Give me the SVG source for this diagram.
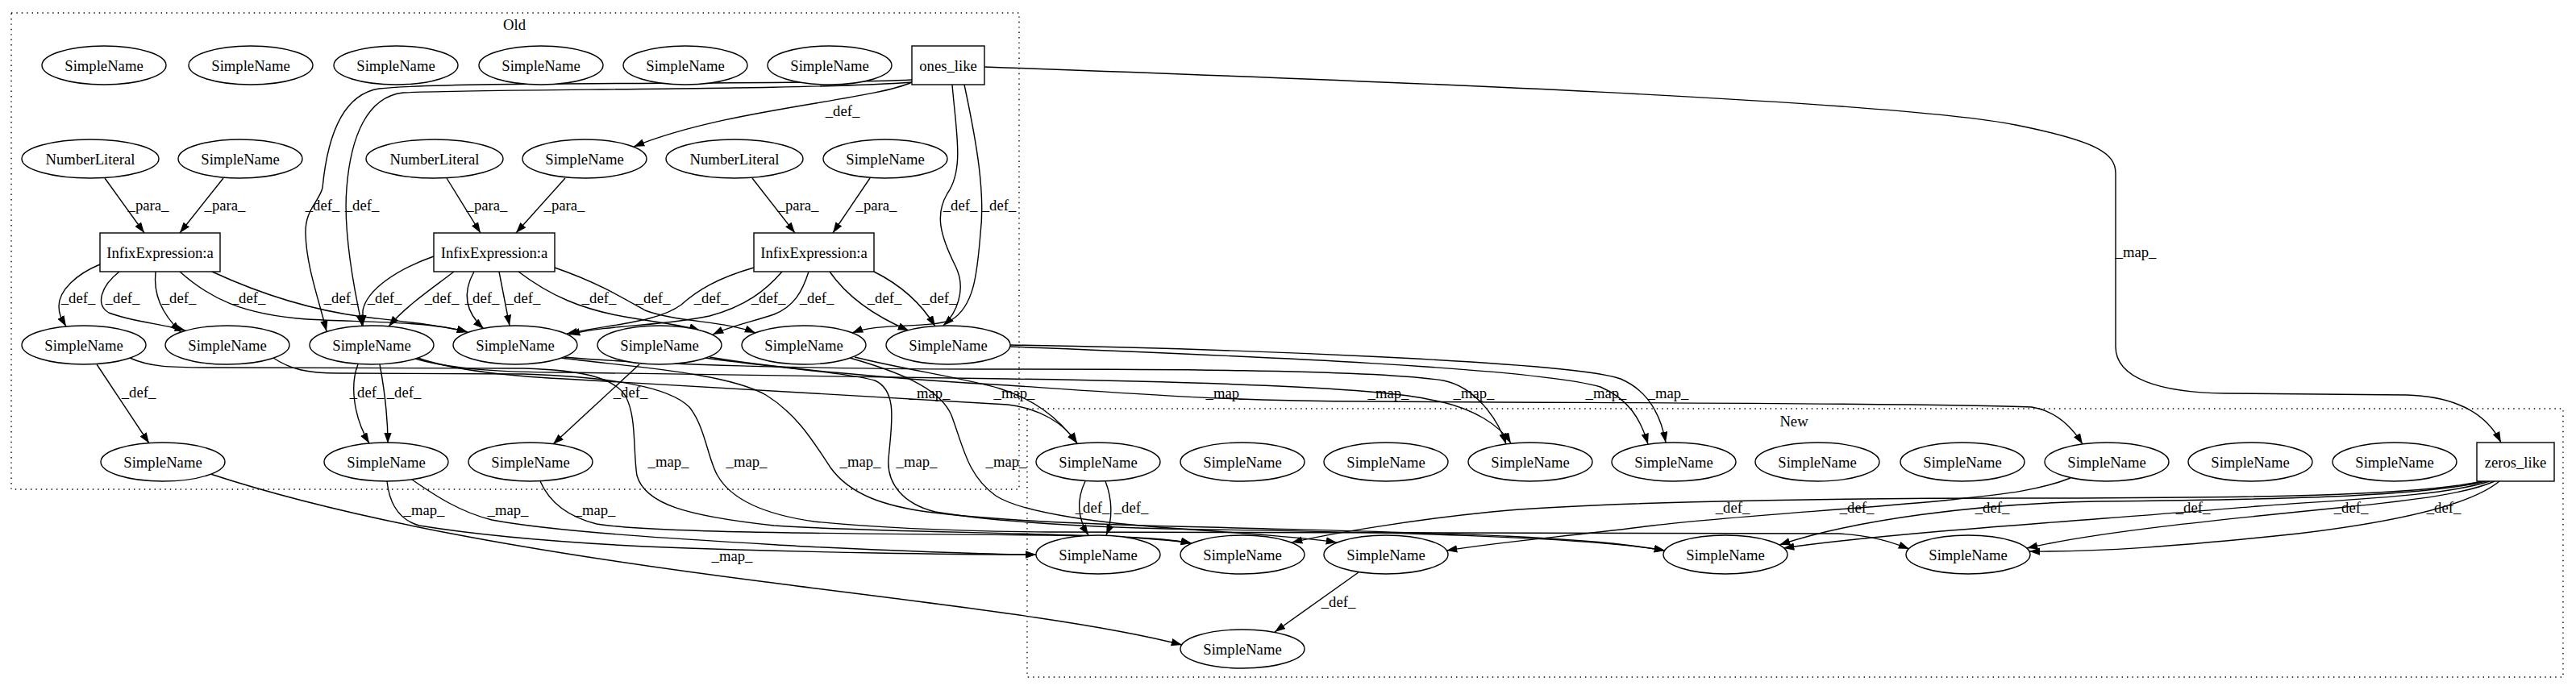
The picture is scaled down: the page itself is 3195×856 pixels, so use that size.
<svg xmlns="http://www.w3.org/2000/svg" width="3195" height="856" viewBox="0 0 3195 856">
<defs>
<marker id="a" markerUnits="userSpaceOnUse" markerWidth="14" markerHeight="10" refX="13.3" refY="4.7" orient="auto"><path d="M0,0 L13.3,4.7 L0,9.4 z" fill="#000"/></marker>
<style>
.nd ellipse,.nd rect{fill:#fff;stroke:#000;stroke-width:1.4}
text{font-family:"Liberation Serif","Times New Roman",serif;font-size:18.67px;text-anchor:middle;fill:#000}
.cl{fill:none;stroke:#000;stroke-width:1.4;stroke-dasharray:1.4,5}
#edges path{fill:none;stroke:#000;stroke-width:1.4;marker-end:url(#a)}
</style>
</defs>
<rect width="3195" height="856" fill="#fff"/>
<g id="cluster_old"><rect class="cl" x="14" y="16" width="1250" height="591"/><text x="638" y="37">Old</text></g>
<g id="cluster_new"><rect class="cl" x="1274" y="507" width="1905" height="333"/><text x="2225" y="529">New</text></g>
<g id="edges">
<path d="M130,221 L179,289"/><text x="184" y="261">_para_</text>
<path d="M277,221 L223,289"/><text x="279" y="261">_para_</text>
<path d="M554,221 L596,289"/><text x="604" y="261">_para_</text>
<path d="M701,221 L640,289"/><text x="700" y="261">_para_</text>
<path d="M933,221 L986,289"/><text x="990" y="261">_para_</text>
<path d="M1079,221 L1033,289"/><text x="1087" y="261">_para_</text>
<path d="M1131,102 C1080,125 900,135 786,182"/><text x="1045" y="144">_def_</text>
<path d="M1131,99 C1000,106 560,100 470,110 C420,118 405,180 400,233 C396,250 378,260 379,290 C380,330 395,370 405,411"/><text x="400" y="261">_def_</text>
<path d="M1131,102 C1000,112 600,110 500,115 C455,120 435,170 430,233 C426,280 435,340 449,404"/><text x="449" y="261">_def_</text>
<path d="M1181,105 C1186,165 1196,210 1175,240 C1160,265 1165,290 1185,330 C1200,360 1185,390 1170,404"/><text x="1191" y="261">_def_</text>
<path d="M1196,105 C1212,180 1222,240 1216,290 C1212,340 1208,380 1180,397 C1150,408 1090,400 1057,413"/><text x="1239" y="261">_def_</text>
<path d="M124,328 C95,340 73,360 73,380 C73,392 78,398 82,405"/><text x="97" y="376">_def_</text>
<path d="M148,337 C125,355 118,378 135,388 C160,398 200,402 230,410"/><text x="152" y="376">_def_</text>
<path d="M193,337 C190,365 200,388 224,412"/><text x="222" y="376">_def_</text>
<path d="M223,337 C260,370 300,390 380,396 C450,400 530,398 580,412"/><text x="308" y="376">_def_</text>
<path d="M263,337 C330,368 390,385 450,393 C510,400 550,404 580,412"/><text x="423" y="376">_def_</text>
<path d="M538,318 C490,335 455,360 450,385 L450,404"/><text x="477" y="376">_def_</text>
<path d="M563,337 C540,355 505,378 482,405"/><text x="548" y="376">_def_</text>
<path d="M588,337 C575,360 575,385 600,408"/><text x="598" y="376">_def_</text>
<path d="M619,337 L632,404"/><text x="649" y="376">_def_</text>
<path d="M643,337 C680,365 720,385 787,395 C830,402 850,404 868,410"/><text x="743" y="376">_def_</text>
<path d="M688,332 C740,350 770,368 800,385 C840,400 900,398 937,413"/><text x="810" y="376">_def_</text>
<path d="M935,332 C890,345 865,360 845,378 C815,400 760,402 703,414"/><text x="882" y="376">_def_</text>
<path d="M970,337 C950,360 925,380 880,392 C820,405 760,402 706,415"/><text x="953" y="376">_def_</text>
<path d="M1003,337 C995,362 985,380 960,390 C930,400 905,405 884,415"/><text x="1013" y="376">_def_</text>
<path d="M1029,337 C1045,360 1075,388 1127,410"/><text x="1097" y="376">_def_</text>
<path d="M1084,337 C1110,350 1140,372 1160,405"/><text x="1165" y="376">_def_</text>
<path d="M120,452 L185,550"/><text x="172" y="493">_def_</text>
<path d="M444,452 C433,480 440,520 458,550"/><text x="455" y="493">_def_</text>
<path d="M471,452 C478,490 481,520 481,550"/><text x="501" y="493">_def_</text>
<path d="M793,452 L686,551"/><text x="782" y="493">_def_</text>
<path d="M161,444 C185,455 210,456 260,456 L650,457 C720,459 760,468 775,490 C790,515 785,560 790,590 C800,625 850,640 960,652 C1100,662 1400,660 1478,674"/><text x="829" y="579">_map_</text>
<path d="M339,444 C360,458 380,463 420,463 L650,464 C760,468 830,480 855,505 C875,530 878,570 890,590 C910,625 960,640 1010,647 C1100,656 1200,659 1300,660 L2280,662 C2320,664 2345,672 2368,681"/><text x="926" y="579">_map_</text>
<path d="M696,444 C780,455 900,462 950,490 C990,515 1010,550 1030,580 C1055,615 1100,628 1150,635 C1250,648 1400,652 1500,654 C1700,660 1950,662 2065,683"/><text x="1067" y="579">_map_</text>
<path d="M875,444 C950,455 1050,462 1085,472 C1115,485 1105,530 1102,570 C1100,600 1120,625 1160,635 C1250,650 1400,656 1500,657 C1700,660 1960,665 2065,683"/><text x="1137" y="579">_map_</text>
<path d="M1054,444 C1110,460 1165,480 1180,515 C1195,555 1200,590 1235,615 C1270,638 1380,650 1450,655 C1550,662 1620,667 1658,673"/><text x="1248" y="579">_map_</text>
<path d="M670,597 C680,620 700,640 740,650 C800,660 1000,662 1300,664 C1400,665 1450,668 1478,674"/><text x="738" y="639">_map_</text>
<path d="M480,597 C483,625 495,645 520,652 C600,665 700,673 800,678 C1000,686 1200,688 1285,688"/><text x="526" y="639">_map_</text>
<path d="M511,595 C540,615 570,635 610,645 C700,662 900,672 1000,678 C1150,685 1240,688 1285,688"/><text x="630" y="639">_map_</text>
<path d="M261,588 C450,650 700,690 950,722 C1150,748 1350,770 1466,800"/><text x="908" y="696">_map_</text>
<path d="M518,444 C550,455 600,465 700,470 C900,482 1100,494 1250,502 C1290,507 1320,525 1336,550"/><text x="1153" y="494">_map_</text>
<path d="M1060,443 C1120,458 1200,470 1240,482 C1280,495 1310,515 1336,550"/><text x="1258" y="494">_map_</text>
<path d="M700,443 C800,452 1000,458 1250,458 C1400,458 1700,458 1790,472 C1830,480 1858,520 1868,551"/><text x="1722" y="494">_map_</text>
<path d="M515,445 C560,458 620,462 700,462 C900,465 1100,468 1250,470 C1450,473 1700,480 1770,495 C1830,505 1862,530 1874,550"/><text x="1828" y="494">_map_</text>
<path d="M880,443 C950,455 1100,470 1250,478 C1400,488 1500,497 1700,498 C2000,500 2400,500 2520,505 C2550,510 2570,530 2583,551"/><text x="1521" y="494">_map_</text>
<path d="M1253,430 C1500,440 1900,455 1985,480 C2020,495 2035,520 2044,551"/><text x="1992" y="494">_map_</text>
<path d="M1253,428 C1500,432 1950,448 2010,470 C2045,485 2060,515 2066,549"/><text x="2069" y="494">_map_</text>
<path d="M1221,83 C1700,100 2350,125 2500,155 C2600,175 2624,190 2624,215 L2624,430 C2624,470 2680,487 2760,488 L2985,490 C3050,492 3085,515 3102,549"/><text x="2649" y="319">_map_</text>
<path d="M1346,597 C1335,620 1336,642 1350,664"/><text x="1355" y="636">_def_</text>
<path d="M1371,597 C1380,620 1380,645 1372,664"/><text x="1403" y="636">_def_</text>
<path d="M1685,710 L1581,784"/><text x="1660" y="753">_def_</text>
<path d="M2568,593 C2520,612 2460,615 2420,620 C2300,632 2150,640 2050,652 C1950,665 1860,672 1794,683"/><text x="2149" y="636">_def_</text>
<path d="M3078,597 C3000,615 2800,618 2500,618 C2200,618 1950,625 1850,635 C1750,645 1650,662 1602,673"/><text x="2303" y="636">_def_</text>
<path d="M3083,597 C3000,617 2800,620 2600,622 C2450,625 2300,645 2207,676"/><text x="2471" y="636">_def_</text>
<path d="M3088,597 C3030,616 2900,620 2800,628 C2600,645 2350,660 2212,680"/><text x="2720" y="636">_def_</text>
<path d="M3094,597 C3060,612 3000,620 2900,630 C2750,645 2600,660 2514,680"/><text x="2916" y="636">_def_</text>
<path d="M3100,597 C3060,630 2950,650 2850,662 C2700,678 2600,685 2517,684"/><text x="3031" y="636">_def_</text>
</g>
<g id="old_t1" class="nd"><ellipse cx="129" cy="81" rx="77" ry="24"/><text x="129" y="87.5">SimpleName</text></g>
<g id="old_t2" class="nd"><ellipse cx="311" cy="81" rx="77" ry="24"/><text x="311" y="87.5">SimpleName</text></g>
<g id="old_t3" class="nd"><ellipse cx="491" cy="81" rx="77" ry="24"/><text x="491" y="87.5">SimpleName</text></g>
<g id="old_t4" class="nd"><ellipse cx="671" cy="81" rx="77" ry="24"/><text x="671" y="87.5">SimpleName</text></g>
<g id="old_t5" class="nd"><ellipse cx="850" cy="81" rx="77" ry="24"/><text x="850" y="87.5">SimpleName</text></g>
<g id="old_t6" class="nd"><ellipse cx="1029" cy="81" rx="77" ry="24"/><text x="1029" y="87.5">SimpleName</text></g>
<g id="ones_like" class="nd"><rect x="1131" y="57" width="90" height="48"/><text x="1176" y="87.5">ones_like</text></g>
<g id="old_n1" class="nd"><ellipse cx="112" cy="197" rx="85" ry="24"/><text x="112" y="203.5">NumberLiteral</text></g>
<g id="old_s1" class="nd"><ellipse cx="298" cy="197" rx="77" ry="24"/><text x="298" y="203.5">SimpleName</text></g>
<g id="old_n2" class="nd"><ellipse cx="539" cy="197" rx="85" ry="24"/><text x="539" y="203.5">NumberLiteral</text></g>
<g id="old_s2" class="nd"><ellipse cx="725" cy="197" rx="77" ry="24"/><text x="725" y="203.5">SimpleName</text></g>
<g id="old_n3" class="nd"><ellipse cx="911" cy="197" rx="85" ry="24"/><text x="911" y="203.5">NumberLiteral</text></g>
<g id="old_s3" class="nd"><ellipse cx="1098" cy="197" rx="77" ry="24"/><text x="1098" y="203.5">SimpleName</text></g>
<g id="old_i1" class="nd"><rect x="124" y="289" width="149" height="48"/><text x="198.5" y="319.5">InfixExpression:a</text></g>
<g id="old_i2" class="nd"><rect x="538" y="289" width="150" height="48"/><text x="613" y="319.5">InfixExpression:a</text></g>
<g id="old_i3" class="nd"><rect x="935" y="289" width="149" height="48"/><text x="1009.5" y="319.5">InfixExpression:a</text></g>
<g id="old_a" class="nd"><ellipse cx="104" cy="428" rx="77" ry="24"/><text x="104" y="434.5">SimpleName</text></g>
<g id="old_b" class="nd"><ellipse cx="282" cy="428" rx="77" ry="24"/><text x="282" y="434.5">SimpleName</text></g>
<g id="old_c" class="nd"><ellipse cx="461" cy="428" rx="77" ry="24"/><text x="461" y="434.5">SimpleName</text></g>
<g id="old_d" class="nd"><ellipse cx="639" cy="428" rx="77" ry="24"/><text x="639" y="434.5">SimpleName</text></g>
<g id="old_e" class="nd"><ellipse cx="818" cy="428" rx="77" ry="24"/><text x="818" y="434.5">SimpleName</text></g>
<g id="old_f" class="nd"><ellipse cx="997" cy="428" rx="77" ry="24"/><text x="997" y="434.5">SimpleName</text></g>
<g id="old_g" class="nd"><ellipse cx="1176" cy="428" rx="77" ry="24"/><text x="1176" y="434.5">SimpleName</text></g>
<g id="old_h" class="nd"><ellipse cx="202" cy="573" rx="77" ry="24"/><text x="202" y="579.5">SimpleName</text></g>
<g id="old_j" class="nd"><ellipse cx="479" cy="573" rx="77" ry="24"/><text x="479" y="579.5">SimpleName</text></g>
<g id="old_k" class="nd"><ellipse cx="658" cy="573" rx="77" ry="24"/><text x="658" y="579.5">SimpleName</text></g>
<g id="new_p1" class="nd"><ellipse cx="1362" cy="573" rx="77" ry="24"/><text x="1362" y="579.5">SimpleName</text></g>
<g id="new_p2" class="nd"><ellipse cx="1541" cy="573" rx="77" ry="24"/><text x="1541" y="579.5">SimpleName</text></g>
<g id="new_p3" class="nd"><ellipse cx="1719" cy="573" rx="77" ry="24"/><text x="1719" y="579.5">SimpleName</text></g>
<g id="new_p4" class="nd"><ellipse cx="1898" cy="573" rx="77" ry="24"/><text x="1898" y="579.5">SimpleName</text></g>
<g id="new_p5" class="nd"><ellipse cx="2076" cy="573" rx="77" ry="24"/><text x="2076" y="579.5">SimpleName</text></g>
<g id="new_p6" class="nd"><ellipse cx="2254" cy="573" rx="77" ry="24"/><text x="2254" y="579.5">SimpleName</text></g>
<g id="new_p7" class="nd"><ellipse cx="2434" cy="573" rx="77" ry="24"/><text x="2434" y="579.5">SimpleName</text></g>
<g id="new_p8" class="nd"><ellipse cx="2613" cy="573" rx="77" ry="24"/><text x="2613" y="579.5">SimpleName</text></g>
<g id="new_p9" class="nd"><ellipse cx="2791" cy="573" rx="77" ry="24"/><text x="2791" y="579.5">SimpleName</text></g>
<g id="new_p10" class="nd"><ellipse cx="2970" cy="573" rx="77" ry="24"/><text x="2970" y="579.5">SimpleName</text></g>
<g id="zeros_like" class="nd"><rect x="3072" y="549" width="96" height="48"/><text x="3120" y="579.5">zeros_like</text></g>
<g id="new_q1" class="nd"><ellipse cx="1362" cy="688" rx="77" ry="24"/><text x="1362" y="694.5">SimpleName</text></g>
<g id="new_q2" class="nd"><ellipse cx="1541" cy="688" rx="77" ry="24"/><text x="1541" y="694.5">SimpleName</text></g>
<g id="new_q3" class="nd"><ellipse cx="1719" cy="688" rx="77" ry="24"/><text x="1719" y="694.5">SimpleName</text></g>
<g id="new_q4" class="nd"><ellipse cx="2140" cy="688" rx="77" ry="24"/><text x="2140" y="694.5">SimpleName</text></g>
<g id="new_q5" class="nd"><ellipse cx="2441" cy="688" rx="77" ry="24"/><text x="2441" y="694.5">SimpleName</text></g>
<g id="new_r1" class="nd"><ellipse cx="1541" cy="805" rx="77" ry="24"/><text x="1541" y="811.5">SimpleName</text></g>
</svg>
